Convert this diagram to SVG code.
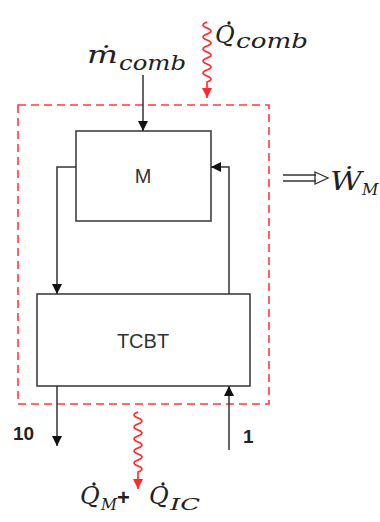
<svg xmlns="http://www.w3.org/2000/svg" width="380" height="522" viewBox="0 0 380 522">
<style>
.box{fill:#fff;stroke:#404040;stroke-width:1.6}
.ln{fill:none;stroke:#333;stroke-width:1.5}
.wave{fill:none;stroke:#ff2a2a;stroke-width:1.6}
.bnd{fill:none;stroke:#ff3b3b;stroke-width:1.6;stroke-dasharray:8 5}
.lbl{font-family:"Liberation Sans","Open Sans",sans-serif;font-size:20px;fill:#333;text-anchor:middle}
.num{font-family:"Liberation Sans","Open Sans",sans-serif;font-size:19px;font-weight:bold;fill:#222}
.mth{font-family:"DejaVu Serif","Liberation Serif",serif;font-style:italic;fill:#222}
.dot{fill:#222}
</style>
<defs>
<marker id="ah" viewBox="0 0 10 10" refX="10" refY="5" markerWidth="10" markerHeight="10" markerUnits="userSpaceOnUse" orient="auto">
<path d="M0,0 L10,5 L0,10 z" fill="#111"/>
</marker>
<marker id="ahr" viewBox="0 0 10 10" refX="10" refY="5" markerWidth="10" markerHeight="10" markerUnits="userSpaceOnUse" orient="auto">
<path d="M0,0 L10,5 L0,10 z" fill="#ff2a2a"/>
</marker>
</defs>
<rect id="boundary" class="bnd" x="18" y="105" width="251" height="299"/>
<g id="node-M">
<rect class="box" x="76" y="131" width="135" height="90"/>
<text class="lbl" x="143" y="183">M</text>
</g>
<g id="node-TCBT">
<rect class="box" x="37" y="294" width="213" height="92"/>
<text class="lbl" x="143" y="348">TCBT</text>
</g>
<g id="connectors">
<path class="ln" d="M143,75 V131" marker-end="url(#ah)"/>
<path class="ln" d="M76,167 H57 V294" marker-end="url(#ah)"/>
<path class="ln" d="M229,294 V167 H211" marker-end="url(#ah)"/>
<path class="ln" d="M57,386 V446" marker-end="url(#ah)"/>
<path class="ln" d="M229,450 V386" marker-end="url(#ah)"/>
<path class="wave" d="M207,22 q-8,3 0,6 t0,6 t0,6 t0,6 t0,6 t0,6 t0,6 t0,6 t0,6 t0,6 V98" marker-end="url(#ahr)"/>
<path class="wave" d="M138,412 q-8,3 0,6 t0,6 t0,6 t0,6 t0,6 t0,6 t0,6 t0,6 t0,6 t0,6 V489" marker-end="url(#ahr)"/>
<path fill="none" stroke="#333" stroke-width="1.3" d="M283,175 H316 M283,181 H316 M315,172 L328,178 L315,184 Z"/>
</g>
<g id="labels">
<text class="mth" x="87" y="63" font-size="25" textLength="31" lengthAdjust="spacingAndGlyphs">ṁ</text>
<text class="mth" x="119" y="70" font-size="20" textLength="67" lengthAdjust="spacingAndGlyphs">comb</text>
<text class="mth" x="215" y="43" font-size="24">Q</text>
<circle class="dot" cx="229" cy="23" r="1.7"/>
<text class="mth" x="236" y="48" font-size="20" textLength="72" lengthAdjust="spacingAndGlyphs">comb</text>
<text class="mth" x="330" y="190" font-size="26" textLength="32" lengthAdjust="spacingAndGlyphs">Ẇ</text>
<text class="mth" x="362" y="195" font-size="16">M</text>
<text class="mth" x="80" y="504" font-size="24">Q</text>
<circle class="dot" cx="94" cy="484" r="1.7"/>
<text class="mth" x="101" y="510" font-size="16" textLength="16" lengthAdjust="spacingAndGlyphs">M</text>
<text x="117" y="505" font-family="Liberation Sans,sans-serif" font-weight="bold" font-size="22" fill="#222">+</text>
<text class="mth" x="149" y="504" font-size="24">Q</text>
<circle class="dot" cx="163" cy="484" r="1.7"/>
<text class="mth" x="170" y="510" font-size="16" textLength="30" lengthAdjust="spacingAndGlyphs">IC</text>
<text class="num" x="13" y="440">10</text>
<text class="num" x="243" y="443">1</text>
</g>
</svg>
